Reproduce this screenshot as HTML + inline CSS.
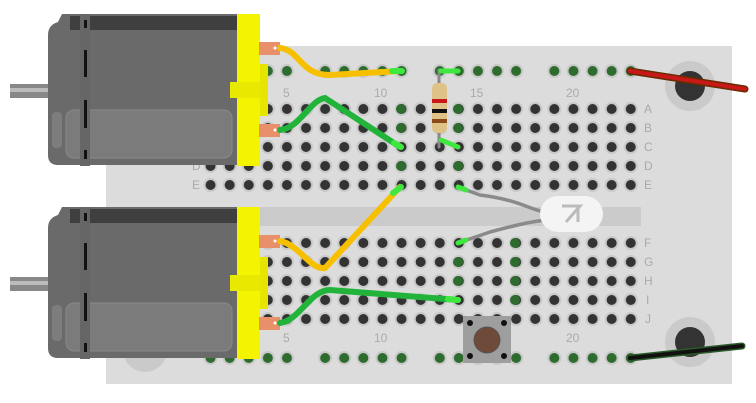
<!DOCTYPE html>
<html><head><meta charset="utf-8"><style>html,body{margin:0;padding:0;background:#fff;width:756px;height:403px;overflow:hidden}</style></head>
<body>
<svg width="756" height="403" viewBox="0 0 756 403" xmlns="http://www.w3.org/2000/svg" font-family="Liberation Sans, sans-serif">
<defs>
<pattern id="h1" x="201" y="99.5" width="19.1" height="19" patternUnits="userSpaceOnUse">
<circle cx="9.55" cy="9.5" r="7" fill="#c9c9c9"/><circle cx="9.55" cy="9.5" r="5" fill="#333"/></pattern>
<pattern id="h2" x="201" y="233.5" width="19.1" height="19" patternUnits="userSpaceOnUse">
<circle cx="9.55" cy="9.5" r="7" fill="#c9c9c9"/><circle cx="9.55" cy="9.5" r="5" fill="#333"/></pattern>
<pattern id="r1" x="201" y="61.5" width="19.1" height="19" patternUnits="userSpaceOnUse">
<circle cx="9.55" cy="9.5" r="7" fill="#c9c9c9"/><circle cx="9.55" cy="9.5" r="5" fill="#2e6b2e"/></pattern>
<pattern id="r2" x="201" y="348.5" width="19.1" height="19" patternUnits="userSpaceOnUse">
<circle cx="9.55" cy="9.5" r="7" fill="#c9c9c9"/><circle cx="9.55" cy="9.5" r="5" fill="#2e6b2e"/></pattern>
<g id="motor">
<rect x="10" y="84" width="40" height="14" fill="#888"/><rect x="10" y="88" width="40" height="4" fill="#bbb"/>
<path d="M62 14 H238 V165 H58 Q48 165 48 155 V35 Q48 25 58 22 Z" fill="#6a6a6a"/>
<rect x="70" y="16" width="168" height="14" fill="#3f3f3f"/>
<rect x="66" y="110" width="166" height="48" rx="8" fill="#7b7b7b" stroke="#8a8a8a"/>
<rect x="52" y="112" width="10" height="36" rx="4" fill="#7d7d7d"/>
<rect x="80" y="14" width="10" height="152" fill="#666"/>
<rect x="84" y="20" width="3" height="8" fill="#111"/><rect x="84" y="50" width="3" height="27" fill="#111"/>
<rect x="84" y="100" width="3" height="28" fill="#111"/><rect x="84" y="150" width="3" height="9" fill="#111"/>
<rect x="237" y="14" width="23" height="152" fill="#f4f400"/>
<rect x="230" y="82" width="36" height="16" fill="#e8e800"/>
<rect x="260" y="64" width="8" height="52" fill="#e5e500"/>
<rect x="259" y="42" width="21" height="13" fill="#e8906a"/><circle cx="275" cy="48" r="1.5" fill="#fff"/>
<rect x="259" y="124" width="21" height="13" fill="#e8906a"/><circle cx="275" cy="130" r="1.5" fill="#fff"/>
</g>
</defs>
<rect x="106" y="46" width="626" height="338" fill="#dcdcdc"/>
<rect x="200" y="207" width="441" height="19" fill="#cbcbcb"/>
<circle cx="690" cy="86" r="25" fill="#cacaca"/><circle cx="690" cy="86" r="15" fill="#333"/>
<circle cx="690" cy="342" r="25" fill="#cacaca"/><circle cx="690" cy="342" r="15" fill="#333"/>
<circle cx="145" cy="350" r="22" fill="#cacaca"/>
<rect x="201" y="99.5" width="439.3" height="95" fill="url(#h1)"/>
<rect x="201" y="233.5" width="439.3" height="95" fill="url(#h2)"/>
<g fill="url(#r1)"><rect x="201" y="61.5" width="95.5" height="19"/><rect x="315.6" y="61.5" width="95.5" height="19"/><rect x="430.2" y="61.5" width="95.5" height="19"/><rect x="544.8" y="61.5" width="95.5" height="19"/></g>
<g fill="url(#r2)"><rect x="201" y="348.5" width="95.5" height="19"/><rect x="315.6" y="348.5" width="95.5" height="19"/><rect x="430.2" y="348.5" width="95.5" height="19"/><rect x="544.8" y="348.5" width="95.5" height="19"/></g>
<g fill="#2e6b2e"><circle cx="401" cy="109" r="5"/><circle cx="401" cy="128" r="5"/><circle cx="401" cy="166" r="5"/><circle cx="458" cy="109" r="5"/><circle cx="458" cy="128" r="5"/><circle cx="458" cy="166" r="5"/><circle cx="458" cy="262" r="5"/><circle cx="458" cy="281" r="5"/><circle cx="515" cy="243" r="5"/><circle cx="515" cy="262" r="5"/><circle cx="515" cy="281" r="5"/><circle cx="515" cy="300" r="5"/></g>
<g fill="#aaa" font-size="12">
<text x="283" y="97">5</text><text x="374" y="97">10</text><text x="470" y="97">15</text><text x="566" y="97">20</text>
<text x="283" y="342">5</text><text x="374" y="342">10</text><text x="566" y="342">20</text>
<text x="644" y="113">A</text><text x="644" y="132">B</text><text x="644" y="151">C</text><text x="644" y="170">D</text><text x="644" y="189">E</text>
<text x="644" y="247">F</text><text x="644" y="266">G</text><text x="644" y="285">H</text><text x="646" y="304">I</text><text x="645" y="323">J</text>
<text x="192" y="170">D</text><text x="192" y="189">E</text>
</g>
<use href="#motor"/>
<use href="#motor" y="193"/>
<g fill="none" stroke-linecap="round">
<path d="M280 48 C300 50 300 75 330 75 L400 71" stroke="#f6c000" stroke-width="6"/>
<path d="M280 130 C300 128 310 100 325 98 L400 147" stroke="#22b43a" stroke-width="6"/>
<path d="M280 241 C300 245 310 270 325 268 L400 187" stroke="#f6c000" stroke-width="6"/>
<path d="M280 323 C300 320 310 290 330 290 L458 300" stroke="#22b43a" stroke-width="6"/>
<path d="M392 71 L402 71 M394 143 L401 147 M393 193 L401 187 M448 299 L458 300" stroke="#3ee83e" stroke-width="6"/>
<path d="M439 70 V147" stroke="#888" stroke-width="3"/>
<path d="M441 71 H458 M441 140 L458 147" stroke="#3ee83e" stroke-width="5"/>
<path d="M458 187 L480 195 C520 200 530 210 545 212" stroke="#8a8a8a" stroke-width="3.5"/>
<path d="M458 243 L490 232 C520 224 530 222 545 220" stroke="#8a8a8a" stroke-width="3.5"/>
<path d="M458 187 L466 190 M458 243 L466 240" stroke="#3ee83e" stroke-width="5"/>
<path d="M630 71 L745 89" stroke="#6b2b00" stroke-width="7"/><path d="M630 71 L745 89" stroke="#c81818" stroke-width="4"/>
<path d="M630 358 L742 346" stroke="#2a5a2a" stroke-width="7"/><path d="M630 358 L742 346" stroke="#111" stroke-width="4"/>
</g>
<rect x="432" y="83" width="15" height="50" rx="5" fill="#dfc288"/>
<rect x="432" y="99" width="15" height="4" fill="#c81818"/><rect x="432" y="109" width="15" height="4" fill="#111"/><rect x="432" y="119" width="15" height="4" fill="#8a4a1a"/>
<rect x="540" y="196" width="63" height="36" rx="18" fill="#f4f4f4"/>
<path d="M562 206 H580 L566 222 M578 208 V222" stroke="#bbb" stroke-width="3" fill="none"/>
<rect x="463" y="316" width="48" height="47" fill="#9e9e9e"/>
<circle cx="470" cy="323" r="3" fill="#111"/><circle cx="504" cy="323" r="3" fill="#111"/><circle cx="470" cy="356" r="3" fill="#111"/><circle cx="504" cy="356" r="3" fill="#111"/>
<circle cx="487" cy="340" r="13" fill="#6e4a3a" stroke="#555"/>
</svg>
</body></html>
